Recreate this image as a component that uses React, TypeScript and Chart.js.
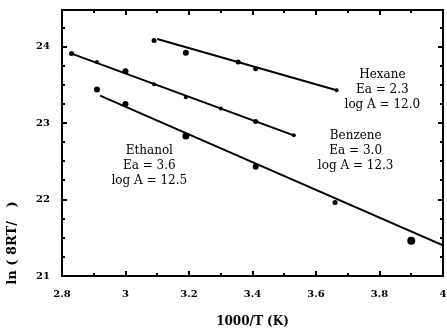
import React, { useEffect, useRef } from "react";
import { Chart, registerables } from "chart.js";

Chart.register(...registerables);

const hexaneX = [3.09, 3.19, 3.355, 3.41, 3.665];
const hexaneY = [24.08, 23.92, 23.8, 23.71, 23.43];
const hexaneR = [2.5, 3, 2.5, 2.5, 2];

const benzeneX = [2.83, 2.91, 3.0, 3.09, 3.19, 3.3, 3.41, 3.53];
const benzeneY = [23.91, 23.8, 23.68, 23.51, 23.34, 23.19, 23.02, 22.84];
const benzeneR = [2.5, 2, 3, 2, 2, 2, 2.5, 2];

const ethanolX = [2.91, 3.0, 3.19, 3.41, 3.66, 3.9];
const ethanolY = [23.44, 23.25, 22.83, 22.43, 21.96, 21.46];
const ethanolR = [3, 3, 3.5, 3, 2.5, 4];

const hexaneFitX = [3.1, 3.665];
const hexaneFitY = [24.1, 23.43];
const benzeneFitX = [2.83, 3.53];
const benzeneFitY = [23.91, 22.84];
const ethanolFitX = [2.92, 4.0];
const ethanolFitY = [23.36, 21.4];

const xLabels = ["2.8", "3", "3.2", "3.4", "3.6", "3.8", "4"];
const yLabels = ["21", "22", "23", "24"];

const notes = [
  { x: 3.809, y: 23.634, lines: ["Hexane", "Ea = 2.3", "log A = 12.0"] },
  { x: 3.725, y: 22.837, lines: ["Benzene", "Ea = 3.0", "log A = 12.3"] },
  { x: 3.075, y: 22.64, lines: ["Ethanol", "Ea = 3.6", "log A = 12.5"] },
];

const xTitle = "1000/T (K)";
const yTitle = "ln ( 8RT/   )";

const pts = (xs: number[], ys: number[]) => xs.map((x, i) => ({ x, y: ys[i] }));

const framePlugin = {
  id: "frame",
  afterDatasetsDraw(chart: any) {
    const { ctx, chartArea: a, scales } = chart;
    const xs = scales.x;
    const ys = scales.y;
    ctx.save();
    ctx.strokeStyle = "#000";
    ctx.lineWidth = 2;
    ctx.strokeRect(a.left, a.top, a.right - a.left, a.bottom - a.top);
    ctx.beginPath();
    for (let i = 0; i <= 12; i++) {
      const v = 2.8 + i * 0.1;
      const px = Math.round(xs.getPixelForValue(v));
      const len = i % 2 === 0 ? 5 : 3;
      ctx.moveTo(px, a.bottom);
      ctx.lineTo(px, a.bottom - len);
      ctx.moveTo(px, a.top);
      ctx.lineTo(px, a.top + len);
    }
    for (let i = 0; i <= 13; i++) {
      const v = 21 + i * 0.25;
      if (v > ys.max) break;
      const py = Math.round(ys.getPixelForValue(v));
      const len = i % 4 === 0 ? 5 : 3;
      ctx.moveTo(a.left, py);
      ctx.lineTo(a.left + len, py);
      ctx.moveTo(a.right, py);
      ctx.lineTo(a.right - len, py);
    }
    ctx.stroke();

    // annotations
    ctx.fillStyle = "#000";
    ctx.textAlign = "center";
    ctx.textBaseline = "middle";
    ctx.font = "12px 'DejaVu Serif'";
    notes.forEach((n) => {
      const cx = xs.getPixelForValue(n.x);
      const cy = ys.getPixelForValue(n.y);
      n.lines.forEach((t, i) => ctx.fillText(t, cx, cy + i * 15));
    });

    // axis titles
    ctx.font = "bold 12px 'DejaVu Serif'";
    ctx.fillText(xTitle, (a.left + a.right) / 2, 322);
    ctx.save();
    ctx.font = "bold 13px 'DejaVu Serif'";
    ctx.translate(13, 243);
    ctx.rotate(-Math.PI / 2);
    ctx.fillText(yTitle, 0, 0);
    ctx.restore();
    ctx.restore();
  },
};

export default function App() {
  const ref = useRef<HTMLCanvasElement>(null);
  useEffect(() => {
    if (!ref.current) return;
    const scatter = (xs: number[], ys: number[], r: number[]) => ({
      data: pts(xs, ys),
      showLine: false,
      pointRadius: r,
      pointBackgroundColor: "#000",
      pointBorderColor: "#000",
      pointBorderWidth: 0,
    });
    const fit = (xs: number[], ys: number[]) => ({
      data: pts(xs, ys),
      showLine: true,
      borderColor: "#000",
      borderWidth: 2,
      pointRadius: 0,
    });
    const chart = new Chart(ref.current, {
      type: "scatter",
      data: {
        datasets: [
          fit(hexaneFitX, hexaneFitY),
          fit(benzeneFitX, benzeneFitY),
          fit(ethanolFitX, ethanolFitY),
          scatter(hexaneX, hexaneY, hexaneR),
          scatter(benzeneX, benzeneY, benzeneR),
          scatter(ethanolX, ethanolY, ethanolR),
        ] as any,
      },
      options: {
        responsive: false,
        animation: false,
        events: [],
        layout: { padding: { top: 10, right: 1, left: 0, bottom: 0 } },
        plugins: { legend: { display: false }, tooltip: { enabled: false } },
        scales: {
          x: {
            type: "linear",
            min: 2.8,
            max: 4,
            grid: { display: false, drawTicks: false },
            border: { display: false },
            afterFit: (s: any) => {
              s.height = 56;
              s.paddingLeft = 0;
              s.paddingRight = 0;
            },
            ticks: {
              stepSize: 0.2,
              padding: 12,
              color: "#000",
              maxRotation: 0,
              autoSkip: false,
              font: { family: "'DejaVu Serif'", size: 10, weight: "bold" },
              callback: (v: any) => {
                const idx = Math.round((Number(v) - 2.8) / 0.2);
                return Math.abs(2.8 + idx * 0.2 - Number(v)) < 1e-6 ? xLabels[idx] ?? "" : "";
              },
            },
          },
          y: {
            type: "linear",
            min: 21,
            max: 24.48,
            grid: { display: false, drawTicks: false },
            border: { display: false },
            afterFit: (s: any) => {
              s.width = 62;
              s.paddingTop = 0;
              s.paddingBottom = 0;
            },
            ticks: {
              stepSize: 1,
              padding: 12,
              color: "#000",
              autoSkip: false,
              font: { family: "'DejaVu Serif'", size: 10, weight: "bold" },
              callback: (v: any) => {
                const n = Number(v);
                const idx = Math.round(n - 21);
                return Math.abs(n - 21 - idx) < 1e-6 ? yLabels[idx] ?? "" : "";
              },
            },
          },
        },
      } as any,
      plugins: [framePlugin],
    });
    return () => chart.destroy();
  }, []);
  return (
    <div style={{ position: "absolute", left: 0, top: 0, width: 447, height: 332, background: "#fff" }}>
      <canvas ref={ref} width={447} height={332} style={{ display: "block" }} />
    </div>
  );
}
